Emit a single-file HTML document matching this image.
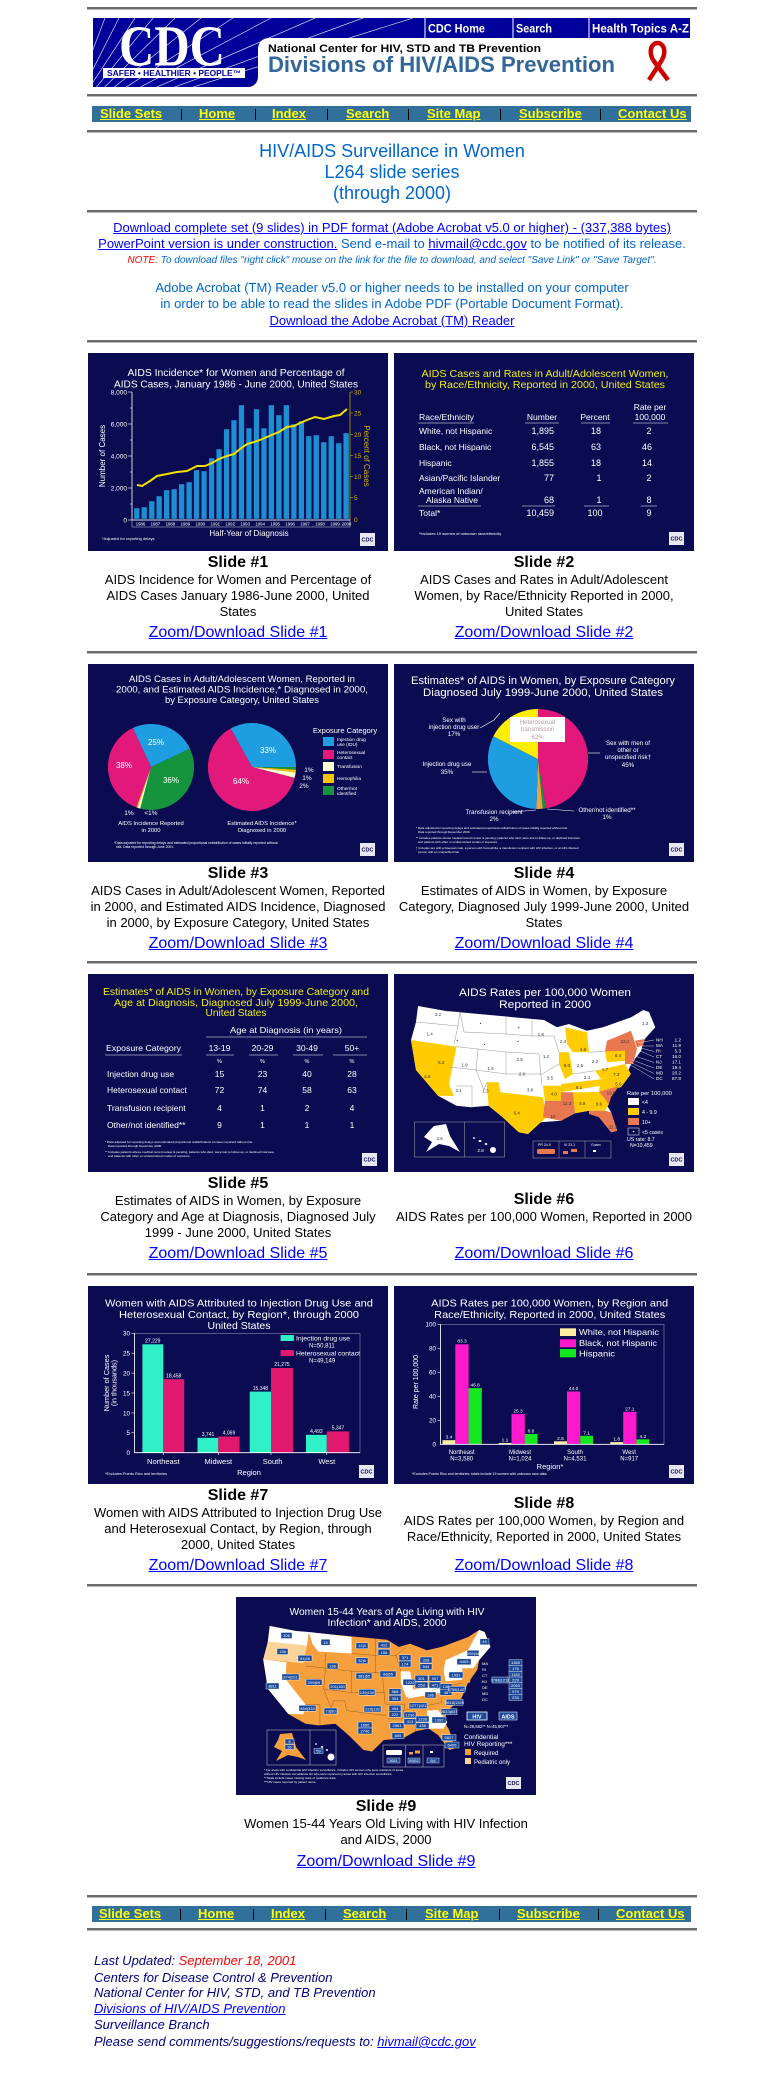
<!DOCTYPE html>
<html><head><meta charset="utf-8">
<style>
*{margin:0;padding:0}
html,body{width:772px;height:2074px;overflow:hidden;background:#fff}
body{position:relative;font-family:"Liberation Sans",Arial,sans-serif;color:#000}
.a{position:absolute;white-space:nowrap}
.c{left:87px;width:610px;text-align:center}
.hr{position:absolute;left:87px;width:610px;height:0;border-top:2px solid #6b6b6b;border-bottom:1px solid #b8b8b8}
.nav{position:absolute;left:92px;width:599px;height:16px;background:#30709a}
.nav a{position:absolute;top:0;line-height:16px;font-size:13px;font-weight:bold;color:#ffff00;text-decoration:underline;white-space:nowrap}
.nav i{position:absolute;top:3px;width:1px;height:11px;background:#000}
.sl{position:absolute;font-family:"Liberation Sans",Arial,sans-serif}
.lab{position:absolute;width:306px;text-align:center;font-weight:bold;font-size:16px;line-height:18px}
.cap{position:absolute;width:306px;text-align:center;font-size:13px;line-height:16px;white-space:nowrap}
.lnk{position:absolute;width:306px;text-align:center;font-size:16px;line-height:18px;white-space:nowrap}
a{color:#0000ff}
</style></head><body>

<div class="hr" style="top:7px"></div>

<!-- HEADER -->
<svg class="sl" style="left:93px;top:18px" width="597" height="69">
<rect width="597" height="69" fill="#00009a"/>
<g stroke="#ffffff" stroke-width="0.7" opacity="0.85">
<line x1="-30" y1="110" x2="12" y2="0"/><line x1="-30" y1="110" x2="26" y2="0"/>
<line x1="-30" y1="110" x2="42" y2="0"/><line x1="-30" y1="110" x2="60" y2="0"/>
<line x1="-30" y1="110" x2="82" y2="0"/><line x1="-30" y1="110" x2="108" y2="0"/>
<line x1="-30" y1="110" x2="140" y2="0"/><line x1="-30" y1="110" x2="178" y2="0"/>
<line x1="-30" y1="110" x2="222" y2="0"/><line x1="-30" y1="110" x2="270" y2="0"/>
<line x1="-30" y1="110" x2="320" y2="0"/>
</g>
<path d="M165,69 L165,32 Q165,20 177,20 L597,20 L597,69 Z" fill="#fff"/>
<path d="M165,59 L165,69 L155,69 A10,10 0 0 0 165,59 Z" fill="#fff"/>
<text x="26" y="47.5" font-family="Liberation Serif,serif" font-weight="bold" font-size="58" fill="#fff" textLength="106" lengthAdjust="spacingAndGlyphs">CDC</text>
<rect x="10" y="50" width="142" height="10" fill="#fff"/>
<text x="81" y="58" font-size="8" font-weight="bold" fill="#00009a" text-anchor="middle" textLength="134" lengthAdjust="spacingAndGlyphs">SAFER • HEALTHIER • PEOPLE™</text>
<g stroke="#fff" stroke-width="1"><line x1="332" y1="0" x2="332" y2="20"/><line x1="420" y1="0" x2="420" y2="20"/><line x1="496" y1="0" x2="496" y2="20"/></g>
<g fill="#fff" font-size="12" font-weight="bold">
<text x="335" y="14.5" textLength="57" lengthAdjust="spacingAndGlyphs">CDC Home</text>
<text x="423" y="14.5" textLength="36" lengthAdjust="spacingAndGlyphs">Search</text>
<text x="499" y="14.5" textLength="97" lengthAdjust="spacingAndGlyphs">Health Topics A-Z</text>
</g>
<text x="175" y="34" font-size="11" font-weight="bold" fill="#000" textLength="273" lengthAdjust="spacingAndGlyphs">National Center for HIV, STD and TB Prevention</text>
<text x="175" y="54" font-size="22" font-weight="bold" fill="#336699" textLength="347" lengthAdjust="spacingAndGlyphs">Divisions of HIV/AIDS Prevention</text>
<g fill="none" stroke="#cc0000" stroke-width="4.5">
<path d="M560,42 C555,32 559,25 564.5,25 C570,25 574,32 569,42"/>
<path d="M569,42 L556,62"/><path d="M560,42 L575,62"/>
</g>
</svg>

<div class="hr" style="top:94px"></div>

<div class="nav" style="top:106px">
<a style="left:8px">Slide Sets</a><i style="left:89px"></i>
<a style="left:107px">Home</a><i style="left:163px"></i>
<a style="left:180px">Index</a><i style="left:235px"></i>
<a style="left:254px">Search</a><i style="left:316px"></i>
<a style="left:335px">Site Map</a><i style="left:408px"></i>
<a style="left:427px">Subscribe</a><i style="left:508px"></i>
<a style="left:526px">Contact Us</a>
</div>

<div class="hr" style="top:130px"></div>

<div class="a c" style="top:141px;font-size:18px;line-height:21px;color:#0066cc">HIV/AIDS Surveillance in Women<br>L264 slide series<br>(through 2000)</div>

<div class="hr" style="top:210px"></div>

<div class="a c" style="top:220px;font-size:13px;line-height:16px"><a href="#">Download complete set (9 slides) in PDF format (Adobe Acrobat v5.0 or higher) - (337,388 bytes)</a></div>
<div class="a c" style="top:236px;font-size:13px;line-height:16px;color:#0066cc"><a href="#">PowerPoint version is under construction.</a> Send e-mail to <a href="#">hivmail@cdc.gov</a> to be notified of its release.</div>
<div class="a c" style="top:253px;font-size:10px;line-height:16px;font-style:italic;color:#0066cc"><span style="color:#ff0000">NOTE:</span> To download files "right click" mouse on the link for the file to download, and select "Save Link" or "Save Target".</div>
<div class="a c" style="top:280px;font-size:13px;line-height:16px;color:#0066cc">Adobe Acrobat (TM) Reader v5.0 or higher needs to be installed on your computer</div>
<div class="a c" style="top:296px;font-size:13px;line-height:16px;color:#0066cc">in order to be able to read the slides in Adobe PDF (Portable Document Format).</div>
<div class="a c" style="top:313px;font-size:13px;line-height:16px"><a href="#">Download the Adobe Acrobat (TM) Reader</a></div>

<div class="hr" style="top:340px"></div>

<!-- SLIDE 1 -->
<svg class="sl" style="left:88px;top:353px" width="300" height="198">
<rect width="300" height="198" fill="#0b0b52"/>
<g fill="#fff">
<text x="148" y="23" font-size="10.5" text-anchor="middle" textLength="217" lengthAdjust="spacingAndGlyphs">AIDS Incidence* for Women and Percentage of</text>
<text x="148" y="34.5" font-size="10.5" text-anchor="middle" textLength="244" lengthAdjust="spacingAndGlyphs">AIDS Cases, January 1986 - June 2000, United States</text>
</g>
<g fill="#1d8ed0" stroke="#0b0b52" stroke-width="0.4">
<rect x="45.9" y="155" width="5.7" height="11"/><rect x="53.4" y="154" width="5.7" height="12"/>
<rect x="60.9" y="148" width="5.7" height="18"/><rect x="68.3" y="143" width="5.7" height="23"/>
<rect x="75.8" y="137" width="5.7" height="29"/><rect x="83.3" y="136" width="5.7" height="30"/>
<rect x="90.8" y="131" width="5.7" height="35"/><rect x="98.3" y="129" width="5.7" height="37"/>
<rect x="105.7" y="117" width="5.7" height="49"/><rect x="113.2" y="118" width="5.7" height="48"/>
<rect x="120.7" y="105" width="5.7" height="61"/><rect x="128.2" y="96" width="5.7" height="70"/>
<rect x="135.7" y="76" width="5.7" height="90"/><rect x="143.1" y="67" width="5.7" height="99"/>
<rect x="150.6" y="52" width="5.7" height="114"/><rect x="158.1" y="75" width="5.7" height="91"/>
<rect x="165.6" y="56" width="5.7" height="110"/><rect x="173.1" y="75" width="5.7" height="91"/>
<rect x="180.5" y="52" width="5.7" height="114"/><rect x="188" y="62" width="5.7" height="104"/>
<rect x="195.5" y="52" width="5.7" height="114"/><rect x="203" y="71" width="5.7" height="95"/>
<rect x="210.5" y="68" width="5.7" height="98"/><rect x="217.9" y="83" width="5.7" height="83"/>
<rect x="225.4" y="82" width="5.7" height="84"/><rect x="232.9" y="89" width="5.7" height="77"/>
<rect x="240.4" y="83" width="5.7" height="83"/><rect x="247.9" y="90" width="5.7" height="76"/>
<rect x="255.3" y="80" width="5.7" height="86"/>
</g>
<polyline fill="none" stroke="#f2e200" stroke-width="2" points="49,132 54,133 62,128 69,123 79,121 89,119 99,118 109,113 117,113 124,110 131,106 139,103 146,101 152,96 159,91 166,89 172,87 179,84 186,81 191,79 199,74 206,73 212,70 219,67 227,64 236,66 246,63 252,62 259,56"/>
<path d="M44,39 V167 H262" fill="none" stroke="#fff" stroke-width="0.8"/>
<g stroke="#fff" stroke-width="0.6"><line x1="40" y1="39" x2="44" y2="39"/><line x1="40" y1="71" x2="44" y2="71"/><line x1="40" y1="103" x2="44" y2="103"/><line x1="40" y1="135" x2="44" y2="135"/><line x1="40" y1="167" x2="44" y2="167"/><line x1="42" y1="55" x2="44" y2="55"/><line x1="42" y1="87" x2="44" y2="87"/><line x1="42" y1="119" x2="44" y2="119"/><line x1="42" y1="151" x2="44" y2="151"/></g>
<line x1="262" y1="39" x2="262" y2="167" stroke="#c8a800" stroke-width="0.8"/>
<g stroke="#c8a800" stroke-width="0.6"><line x1="262" y1="39" x2="265" y2="39"/><line x1="262" y1="60" x2="265" y2="60"/><line x1="262" y1="81.3" x2="265" y2="81.3"/><line x1="262" y1="102.5" x2="265" y2="102.5"/><line x1="262" y1="123.7" x2="265" y2="123.7"/><line x1="262" y1="144.8" x2="265" y2="144.8"/></g>
<g fill="#fff" font-size="6.5" text-anchor="end"><text x="39" y="41.5">8,000</text><text x="39" y="73.5">6,000</text><text x="39" y="105.5">4,000</text><text x="39" y="137.5">2,000</text><text x="39" y="169.5">0</text></g>
<g fill="#d4b400" font-size="6.5"><text x="266" y="41.5">30</text><text x="266" y="62.5">25</text><text x="266" y="84">20</text><text x="266" y="105">15</text><text x="266" y="126">10</text><text x="266" y="147">5</text><text x="266" y="169">0</text></g>
<rect x="44" y="167" width="218" height="7" fill="none" stroke="#fff" stroke-width="0.4"/>
<g fill="#fff" font-size="4.3" text-anchor="middle">
<text x="52.5" y="172.5">1986</text><text x="67.4" y="172.5">1987</text><text x="82.4" y="172.5">1988</text><text x="97.4" y="172.5">1989</text><text x="112.3" y="172.5">1990</text><text x="127.3" y="172.5">1991</text><text x="142.2" y="172.5">1992</text><text x="157.2" y="172.5">1993</text><text x="172.2" y="172.5">1994</text><text x="187.1" y="172.5">1995</text><text x="202.1" y="172.5">1996</text><text x="217" y="172.5">1997</text><text x="232" y="172.5">1998</text><text x="247" y="172.5">1999</text><text x="258.5" y="172.5">2000</text>
</g>
<text x="161" y="183" fill="#fff" font-size="8" text-anchor="middle">Half-Year of Diagnosis</text>
<text x="14" y="187" fill="#fff" font-size="4">*Adjusted for reporting delays</text>
<text transform="translate(17,103) rotate(-90)" fill="#fff" font-size="8" text-anchor="middle">Number of Cases</text>
<text transform="translate(276,103) rotate(90)" fill="#d4b400" font-size="8" text-anchor="middle">Percent of Cases</text>
<rect x="272" y="180" width="15" height="13" fill="#e8e8f2"/><text x="279.5" y="188.5" font-size="5.5" font-weight="bold" fill="#0b0b52" text-anchor="middle">CDC</text>
</svg>

<!-- SLIDE 2 -->
<svg class="sl" style="left:394px;top:353px" width="300" height="198">
<rect width="300" height="198" fill="#0b0b52"/>
<text x="151" y="24" font-size="10" fill="#eeee10" text-anchor="middle" textLength="247" lengthAdjust="spacingAndGlyphs">AIDS Cases and Rates in Adult/Adolescent Women,</text>
<text x="151" y="35" font-size="10" fill="#eeee10" text-anchor="middle" textLength="240" lengthAdjust="spacingAndGlyphs">by Race/Ethnicity, Reported in 2000, United States</text>
<g fill="#fff" font-size="8.5">
<text x="25" y="67" textLength="55" lengthAdjust="spacingAndGlyphs">Race/Ethnicity</text>
<text x="148" y="67" text-anchor="middle">Number</text>
<text x="201" y="67" text-anchor="middle">Percent</text>
<text x="256" y="57" text-anchor="middle">Rate per</text>
<text x="256" y="67" text-anchor="middle">100,000</text>
<text x="25" y="81">White, not Hispanic</text>
<text x="25" y="97">Black, not Hispanic</text>
<text x="25" y="113">Hispanic</text>
<text x="25" y="128">Asian/Pacific Islander</text>
<text x="25" y="141">American Indian/</text>
<text x="32" y="150">Alaska Native</text>
<text x="25" y="163">Total*</text>
</g>
<g fill="#fff" font-size="9" text-anchor="end">
<text x="160" y="81">1,895</text><text x="160" y="97">6,545</text><text x="160" y="113">1,855</text><text x="160" y="128">77</text><text x="160" y="150">68</text><text x="160" y="163">10,459</text>
</g>
<g fill="#fff" font-size="9" text-anchor="middle">
<text x="202" y="81">18</text><text x="202" y="97">63</text><text x="202" y="113">18</text><text x="205" y="128">1</text><text x="205" y="150">1</text><text x="201" y="163">100</text>
<text x="255" y="81">2</text><text x="253" y="97">46</text><text x="253" y="113">14</text><text x="255" y="128">2</text><text x="255" y="150">8</text><text x="255" y="163">9</text>
</g>
<g stroke="#fff" stroke-width="0.5"><line x1="24" y1="70" x2="80" y2="70"/><line x1="131" y1="70" x2="165" y2="70"/><line x1="187" y1="70" x2="216" y2="70"/><line x1="239" y1="70" x2="274" y2="70"/><line x1="24" y1="153" x2="87" y2="153"/><line x1="128" y1="153" x2="161" y2="153"/><line x1="190" y1="153" x2="215" y2="153"/><line x1="247" y1="153" x2="263" y2="153"/></g>
<text x="25" y="182" fill="#fff" font-size="4">*Includes 19 women of unknown race/ethnicity</text>
<rect x="275" y="179" width="15" height="13" fill="#e8e8f2"/><text x="282.5" y="187.5" font-size="5.5" font-weight="bold" fill="#0b0b52" text-anchor="middle">CDC</text>
</svg>

<div class="lab" style="left:85px;top:554px">Slide #1</div>
<div class="cap" style="left:85px;top:572px">AIDS Incidence for Women and Percentage of<br>AIDS Cases January 1986-June 2000, United<br>States</div>
<div class="lnk" style="left:85px;top:624px"><a href="#">Zoom/Download Slide #1</a></div>
<div class="lab" style="left:391px;top:554px">Slide #2</div>
<div class="cap" style="left:391px;top:572px">AIDS Cases and Rates in Adult/Adolescent<br>Women, by Race/Ethnicity Reported in 2000,<br>United States</div>
<div class="lnk" style="left:391px;top:624px"><a href="#">Zoom/Download Slide #2</a></div>

<div class="hr" style="top:651px"></div>

<!-- SLIDE 3 -->
<svg class="sl" style="left:88px;top:664px" width="300" height="198">
<rect width="300" height="198" fill="#0b0b52"/>
<g fill="#fff" text-anchor="middle" font-size="9.5">
<text x="154" y="18" textLength="226" lengthAdjust="spacingAndGlyphs">AIDS Cases in Adult/Adolescent Women, Reported in</text>
<text x="154" y="28.5" textLength="252" lengthAdjust="spacingAndGlyphs">2000, and Estimated AIDS Incidence,* Diagnosed in 2000,</text>
<text x="154" y="39" textLength="154" lengthAdjust="spacingAndGlyphs">by Exposure Category, United States</text>
</g>
<path d="M63,103 L44.8,64 A43,43 0 0 1 102,84.8 Z" fill="#1e9de0"/>
<path d="M63,103 L102,84.8 A43,43 0 0 1 52.2,144.6 Z" fill="#14943c"/>
<path d="M63,103 L52.2,144.6 A43,43 0 0 1 49.6,143.9 Z" fill="#ffffd0"/>
<path d="M63,103 L49.6,143.9 A43,43 0 0 1 48.3,143.4 Z" fill="#ffc400"/>
<path d="M63,103 L48.3,143.4 A43,43 0 0 1 44.8,64 Z" fill="#e2187a"/>
<path d="M164,103 L142.7,64.5 A44,44 0 0 1 208,103 Z" fill="#1e9de0"/>
<path d="M164,103 L208,103 A44,44 0 0 1 207.9,105.8 Z" fill="#14943c"/>
<path d="M164,103 L207.9,105.8 A44,44 0 0 1 207.7,108.5 Z" fill="#ffc400"/>
<path d="M164,103 L207.7,108.5 A44,44 0 0 1 206.6,113.9 Z" fill="#ffffd0"/>
<path d="M164,103 L206.6,113.9 A44,44 0 1 1 142.7,64.5 Z" fill="#e2187a"/>
<g fill="#fff" font-size="8" text-anchor="middle">
<text x="68" y="81">25%</text><text x="36" y="104">38%</text><text x="83" y="119">36%</text><text x="180" y="89">33%</text><text x="153" y="120">64%</text>
</g>
<g fill="#fff" font-size="6.5" text-anchor="middle">
<text x="41" y="151">1%</text><text x="63" y="151">&lt;1%</text><text x="221" y="108">1%</text><text x="219" y="116">1%</text><text x="216" y="124">2%</text>
</g>
<g fill="#fff" font-size="5.8" text-anchor="middle">
<text x="63" y="161">AIDS Incidence Reported</text><text x="63" y="168">in 2000</text>
<text x="174" y="161">Estimated AIDS Incidence*</text><text x="174" y="168">Diagnosed in 2000</text>
</g>
<text x="257" y="69" fill="#fff" font-size="7.5" text-anchor="middle">Exposure Category</text>
<rect x="235" y="73" width="11" height="9" fill="#1e9de0"/>
<rect x="235" y="86" width="11" height="9" fill="#e2187a"/>
<rect x="235" y="98" width="11" height="9" fill="#ffffd0"/>
<rect x="235" y="110" width="11" height="9" fill="#ffc400"/>
<rect x="235" y="122" width="11" height="9" fill="#14943c"/>
<g fill="#fff" font-size="4.8">
<text x="249" y="77">Injection drug</text><text x="249" y="82">use (IDU)</text>
<text x="249" y="90">Heterosexual</text><text x="249" y="95">contact</text>
<text x="249" y="104">Transfusion</text><text x="249" y="116">Hemophilia</text>
<text x="249" y="126">Other/not</text><text x="249" y="131">identified</text>
</g>
<g fill="#fff" font-size="3.4"><text x="26" y="180">*Data adjusted for reporting delays and estimated proportional redistribution of cases initially reported without</text><text x="28" y="184">risk. Data reported through June 2001.</text></g>
<rect x="272" y="179" width="15" height="13" fill="#e8e8f2"/><text x="279.5" y="187.5" font-size="5.5" font-weight="bold" fill="#0b0b52" text-anchor="middle">CDC</text>
</svg>

<!-- SLIDE 4 -->
<svg class="sl" style="left:394px;top:664px" width="300" height="198">
<rect width="300" height="198" fill="#0b0b52"/>
<text x="149" y="20" fill="#fff" font-size="11" text-anchor="middle" textLength="264" lengthAdjust="spacingAndGlyphs">Estimates* of AIDS in Women, by Exposure Category</text>
<text x="149" y="32" fill="#fff" font-size="11" text-anchor="middle" textLength="240" lengthAdjust="spacingAndGlyphs">Diagnosed July 1999-June 2000, United States</text>
<path d="M144,95 L144,45 A50,50 0 0 1 151.8,144.4 Z" fill="#e2187a"/>
<path d="M144,95 L151.8,144.4 A50,50 0 0 1 148.7,144.8 Z" fill="#14943c"/>
<path d="M144,95 L148.7,144.8 A50,50 0 0 1 142.4,145 Z" fill="#f0a040"/>
<path d="M144,95 L142.4,145 A50,50 0 0 1 99.4,72.3 Z" fill="#1e9de0"/>
<path d="M144,95 L99.4,72.3 A50,50 0 0 1 144,45 Z" fill="#ffee00"/>
<rect x="116" y="53" width="55" height="25" fill="#fff"/>
<g fill="#b49aa6" font-size="6" text-anchor="middle"><text x="143.5" y="60">Heterosexual</text><text x="143.5" y="67">transmission</text><text x="143.5" y="75">62%</text></g>
<g stroke="#fff" stroke-width="0.6" fill="none">
<polyline points="86,64 100,56 106,49"/><line x1="78" y1="108" x2="93" y2="108"/><line x1="194" y1="89" x2="206" y2="89"/><line x1="118" y1="148" x2="142" y2="146"/><line x1="153" y1="145" x2="180" y2="147"/>
</g>
<g fill="#fff" font-size="6.2" text-anchor="middle">
<text x="60" y="58">Sex with</text><text x="60" y="65">injection drug user</text><text x="60" y="72">17%</text>
<text x="53" y="102">Injection drug use</text><text x="53" y="110">35%</text>
<text x="234" y="81">Sex with men of</text><text x="234" y="88">other or</text><text x="234" y="95">unspecified risk†</text><text x="234" y="103">45%</text>
<text x="100" y="150">Transfusion recipient</text><text x="100" y="157">2%</text>
<text x="213" y="148">Other/not identified**</text><text x="213" y="155">1%</text>
</g>
<g fill="#fff" font-size="3"><text x="22" y="165">* Data adjusted for reporting delays and estimated proportional redistribution of cases initially reported without risk.</text><text x="24" y="169">Data reported through December 2000.</text><text x="22" y="175">** Includes patients whose medical record review is pending; patients who died, were lost to follow-up, or declined interview;</text><text x="24" y="179">and patients with other or undetermined modes of exposure.</text><text x="22" y="185">† Includes sex with a bisexual male, a person with hemophilia, a transfusion recipient with HIV infection, or an HIV-infected</text><text x="24" y="189">person with an unspecified risk.</text></g>
<rect x="275" y="179" width="15" height="13" fill="#e8e8f2"/><text x="282.5" y="187.5" font-size="5.5" font-weight="bold" fill="#0b0b52" text-anchor="middle">CDC</text>
</svg>

<div class="lab" style="left:85px;top:865px">Slide #3</div>
<div class="cap" style="left:85px;top:883px">AIDS Cases in Adult/Adolescent Women, Reported<br>in 2000, and Estimated AIDS Incidence, Diagnosed<br>in 2000, by Exposure Category, United States</div>
<div class="lnk" style="left:85px;top:935px"><a href="#">Zoom/Download Slide #3</a></div>
<div class="lab" style="left:391px;top:865px">Slide #4</div>
<div class="cap" style="left:391px;top:883px">Estimates of AIDS in Women, by Exposure<br>Category, Diagnosed July 1999-June 2000, United<br>States</div>
<div class="lnk" style="left:391px;top:935px"><a href="#">Zoom/Download Slide #4</a></div>

<div class="hr" style="top:961px"></div>

<!-- SLIDE 5 -->
<svg class="sl" style="left:88px;top:974px" width="300" height="198">
<rect width="300" height="198" fill="#0b0b52"/>
<g fill="#eeee10" font-size="10" text-anchor="middle">
<text x="148" y="21" textLength="266" lengthAdjust="spacingAndGlyphs">Estimates* of AIDS in Women, by Exposure Category and</text>
<text x="148" y="32" textLength="244" lengthAdjust="spacingAndGlyphs">Age at Diagnosis, Diagnosed July 1999-June 2000,</text>
<text x="148" y="42" textLength="61" lengthAdjust="spacingAndGlyphs">United States</text>
</g>
<text x="198" y="59" fill="#fff" font-size="8.5" text-anchor="middle" textLength="112" lengthAdjust="spacingAndGlyphs">Age at Diagnosis (in years)</text>
<g stroke="#fff" stroke-width="0.5"><line x1="118" y1="63" x2="279" y2="63"/><line x1="17" y1="81" x2="94" y2="81"/><line x1="118" y1="81" x2="146" y2="81"/><line x1="161" y1="81" x2="190" y2="81"/><line x1="205" y1="81" x2="235" y2="81"/><line x1="245" y1="81" x2="279" y2="81"/></g>
<g fill="#fff" font-size="8.5">
<text x="18" y="77" textLength="75" lengthAdjust="spacingAndGlyphs">Exposure Category</text>
<text x="19" y="103">Injection drug use</text>
<text x="19" y="119">Heterosexual contact</text>
<text x="19" y="137">Transfusion recipient</text>
<text x="19" y="154">Other/not identified**</text>
</g>
<g fill="#fff" font-size="8.5" text-anchor="middle">
<text x="131.5" y="77">13-19</text><text x="174.5" y="77">20-29</text><text x="219" y="77">30-49</text><text x="264" y="77">50+</text>
<text x="131.5" y="103">15</text><text x="174.5" y="103">23</text><text x="219" y="103">40</text><text x="264" y="103">28</text>
<text x="131.5" y="119">72</text><text x="174.5" y="119">74</text><text x="219" y="119">58</text><text x="264" y="119">63</text>
<text x="131.5" y="137">4</text><text x="174.5" y="137">1</text><text x="219" y="137">2</text><text x="264" y="137">4</text>
<text x="131.5" y="154">9</text><text x="174.5" y="154">1</text><text x="219" y="154">1</text><text x="264" y="154">1</text>
</g>
<g fill="#fff" font-size="5.5" text-anchor="middle"><text x="131.5" y="89">%</text><text x="174.5" y="89">%</text><text x="219" y="89">%</text><text x="264" y="89">%</text></g>
<g fill="#fff" font-size="3.1"><text x="17" y="169">* Data adjusted for reporting delays and estimated proportional redistributions of cases reported without risk.</text><text x="20" y="173">Data reported through December 2000.</text><text x="17" y="179">** Includes patients whose medical record review is pending, patients who died, were lost to follow-up, or declined interview,</text><text x="20" y="183">and patients with other or undetermined modes of exposure.</text></g>
<rect x="274" y="179" width="15" height="13" fill="#e8e8f2"/><text x="281.5" y="187.5" font-size="5.5" font-weight="bold" fill="#0b0b52" text-anchor="middle">CDC</text>
</svg>

<!-- SLIDE 6 -->
<svg class="sl" style="left:394px;top:974px" width="300" height="198">
<rect width="300" height="198" fill="#0b0b52"/>
<text x="151" y="22" fill="#fff" font-size="11" text-anchor="middle" textLength="172" lengthAdjust="spacingAndGlyphs">AIDS Rates per 100,000 Women</text>
<text x="151" y="34" fill="#fff" font-size="11" text-anchor="middle" textLength="92" lengthAdjust="spacingAndGlyphs">Reported in 2000</text>
<polygon fill="#fff" points="24,32 52,37 138.8,45 150,46 162.9,53.3 175,50 193,56.7 209,53.3 237.2,43.3 249.2,36 255,38 261.3,53.3 249.2,66.7 247.2,76.7 237.2,90 230,106 217.1,116.7 211.1,128.3 217.1,138.3 223.1,156.7 217.1,158.3 205.1,143.3 195,136.7 181,139.3 166.9,146.7 146.8,148.3 134,160 124.8,158.3 108.7,143.3 94.6,131.7 76.6,133.3 62.5,131.7 44,121.7 22,96 17,66 22,48"/>
<g fill="#ffcc00">
<polygon points="17,66 62.5,72.7 55,110 60,122 44,121.7 22,96"/>
<polygon points="92.6,108.3 104.7,108.3 106.7,118.3 148.8,123.3 152.9,143.3 146.8,148.3 134,160 124.8,158.3 108.7,143.3 94.6,131.7"/>
<polygon points="148.8,111.7 169,111.7 167,126.7 151,126.7"/>
<polygon points="179,118.3 193,118.3 195,136.7 181,139.3"/>
<polygon points="193,118.3 205,117.7 215,130 211,136.7 195,136.7"/>
<polygon points="167,110 209,105 207,111.7 167,118.3"/>
<polygon points="207,105 237,100 227,113.3 205,117.7"/>
<polygon points="201,96.7 231,90 237,100 207,105"/>
<polygon points="165,78.3 175,78.3 179,100 171,105 165,90"/>
<polygon points="171,53.3 193,58.3 195,78.3 179,78.3 173,70"/>
<polygon points="211,77.3 231,75 233,86.7 213,88.3"/>
</g>
<g fill="#e87850">
<polygon points="151,126.7 167,126.7 167,146.7 149,143.3"/>
<polygon points="167,118.3 179,118.3 181,139.3 167,146.7"/>
<polygon points="205,117.7 225,112 217,123.3 215,130"/>
<polygon points="195,136.7 211,136.7 217.1,138.3 223.1,156.7 217.1,158.3 205.1,143.3 195,140"/>
<polygon points="213,66.7 237,56.7 243,75 231,76.7 211,77.3"/>
<polygon points="231,75 243,75 239,90 231,90"/>
<polygon points="241,66.7 251,65 249,71.7 243,73.3"/>
</g>
<g stroke="#777" stroke-width="0.4" fill="none">
<polyline points="22,48 64,52 60,70"/><polyline points="52,37 66,38 64,52"/><polyline points="66,38 70,58 112,60 112,43"/><polyline points="62.5,72.7 84,75 82,96 56,93"/><polyline points="84,75 112,78 112,100 82,96"/><polyline points="112,60 138,62 138,45"/><polyline points="112,78 145,80 148,111.7"/><polyline points="62.5,112 78,112 78,133"/><polyline points="82,96 90,116 92.6,108.3"/><polyline points="112,100 148,100"/><polyline points="138,62 160,62 165,78.3"/><polyline points="148,100 165,90"/><polyline points="195,78.3 211,77.3"/><polyline points="179,100 201,96.7"/>
</g>
<g fill="#333" font-size="4.5" text-anchor="middle">
<text x="44" y="42">3.2</text><text x="35.6" y="61.5">1.4</text><text x="47.2" y="90">6.2</text><text x="33.2" y="104">4.6</text><text x="70.5" y="92.5">1.9</text><text x="96.6" y="96">1.6</text><text x="64.5" y="118">3.1</text><text x="91.4" y="118.5">1.3</text><text x="125.6" y="87">2.9</text><text x="128" y="101.5">2.0</text><text x="152" y="84">1.2</text><text x="146.8" y="62">1.8</text><text x="169" y="69">2.4</text><text x="189" y="77">4.8</text><text x="173" y="93">8.0</text><text x="186" y="93">2.6</text><text x="201" y="89">2.2</text><text x="211" y="97">1.7</text><text x="224" y="83">8.4</text><text x="222.3" y="102">7.3</text><text x="224.4" y="111.5">5.6</text><text x="193" y="105">2.4</text><text x="156" y="105.5">3.5</text><text x="136" y="117.5">3.8</text><text x="159.7" y="121.5">4.0</text><text x="185" y="115">8.1</text><text x="173" y="131">11.3</text><text x="188.2" y="131">5.8</text><text x="205" y="131.5">9.6</text><text x="217" y="120.5">13.8</text><text x="159" y="144">10</text><text x="219" y="154.5">21.3</text><text x="122.7" y="140.5">6.4</text><text x="231" y="69">23.4</text><text x="251" y="51">1.3</text>
<text x="86.6" y="51">•</text><text x="63.3" y="68">•</text><text x="90.6" y="72">•</text><text x="124.8" y="55">•</text><text x="124" y="69">•</text>
</g>
<g stroke="#fff" stroke-width="0.4"><line x1="244" y1="69" x2="260" y2="66"/><line x1="245" y1="72" x2="260" y2="72"/><line x1="247" y1="74" x2="260" y2="77.5"/><line x1="244" y1="76" x2="260" y2="83"/><line x1="241" y1="82" x2="260" y2="88.5"/><line x1="238" y1="86" x2="260" y2="94"/><line x1="236" y1="88" x2="260" y2="99.5"/><line x1="235" y1="90" x2="260" y2="105"/></g>
<g fill="#fff" font-size="4.6"><text x="262" y="67.5">NH</text><text x="262" y="73">MA</text><text x="262" y="78.5">RI</text><text x="262" y="84">CT</text><text x="262" y="89.5">NJ</text><text x="262" y="95">DE</text><text x="262" y="100.5">MD</text><text x="262" y="106">DC</text></g>
<g fill="#fff" font-size="4.6" text-anchor="end"><text x="287" y="67.5">1.2</text><text x="287" y="73">11.9</text><text x="287" y="78.5">5.3</text><text x="287" y="84">16.0</text><text x="287" y="89.5">17.1</text><text x="287" y="95">19.4</text><text x="287" y="100.5">20.2</text><text x="287" y="106">87.8</text></g>
<text x="233" y="121" fill="#fff" font-size="5.8">Rate per 100,000</text>
<rect x="234" y="124" width="11" height="7" fill="#fff"/><rect x="234" y="134" width="11" height="7" fill="#ffcc00"/><rect x="234" y="144" width="11" height="7" fill="#e87850"/><rect x="234" y="154" width="11" height="7" fill="#0b0b52" stroke="#fff" stroke-width="0.5"/><circle cx="239.5" cy="157.5" r="0.8" fill="#fff"/>
<g fill="#fff" font-size="5.2"><text x="248" y="130">&lt;4</text><text x="248" y="140">4 - 9.9</text><text x="248" y="150">10+</text><text x="248" y="160">&lt;5 cases</text><text x="233" y="167">US rate: 8.7</text><text x="236" y="173">N=10,459</text></g>
<rect x="20.3" y="148" width="90.4" height="35" fill="none" stroke="#aaa" stroke-width="0.5"/><line x1="70.5" y1="148" x2="70.5" y2="183" stroke="#aaa" stroke-width="0.5"/>
<polygon fill="#fff" points="40,152 52,150 56,162 66,178 55,172 45,170 32,178 38,168 30,163 35,157"/>
<g fill="#fff"><ellipse cx="80" cy="164" rx="1.2" ry="0.8"/><ellipse cx="86" cy="167" rx="1.5" ry="1"/><ellipse cx="92" cy="170" rx="1.3" ry="1"/><ellipse cx="99" cy="176" rx="3" ry="3"/></g>
<g fill="#333" font-size="4.5" text-anchor="middle"><text x="45.6" y="166">2.6</text></g><text x="86.6" y="178" fill="#fff" font-size="4.5" text-anchor="middle">2.8</text>
<rect x="139" y="167" width="78" height="17" fill="none" stroke="#aaa" stroke-width="0.5"/><line x1="165" y1="167" x2="165" y2="184" stroke="#aaa" stroke-width="0.5"/><line x1="191" y1="167" x2="191" y2="184" stroke="#aaa" stroke-width="0.5"/>
<g fill="#fff" font-size="3.5"><text x="144" y="172">PR 24.9</text><text x="170" y="172">VI 23.1</text><text x="197" y="172">Guam</text></g>
<rect x="143" y="175" width="18" height="5" rx="1.5" fill="#e87850"/><rect x="169" y="177" width="5" height="3" fill="#e87850"/><rect x="177" y="175" width="6" height="3" fill="#e87850"/><rect x="199" y="176" width="3" height="2" fill="#fff"/>
<rect x="275" y="179" width="15" height="13" fill="#e8e8f2"/><text x="282.5" y="187.5" font-size="5.5" font-weight="bold" fill="#0b0b52" text-anchor="middle">CDC</text>
</svg>

<div class="lab" style="left:85px;top:1175px">Slide #5</div>
<div class="cap" style="left:85px;top:1193px">Estimates of AIDS in Women, by Exposure<br>Category and Age at Diagnosis, Diagnosed July<br>1999 - June 2000, United States</div>
<div class="lnk" style="left:85px;top:1245px"><a href="#">Zoom/Download Slide #5</a></div>
<div class="lab" style="left:391px;top:1191px">Slide #6</div>
<div class="cap" style="left:391px;top:1209px">AIDS Rates per 100,000 Women, Reported in 2000</div>
<div class="lnk" style="left:391px;top:1245px"><a href="#">Zoom/Download Slide #6</a></div>

<div class="hr" style="top:1273px"></div>

<!-- SLIDE 7 -->
<svg class="sl" style="left:88px;top:1286px" width="300" height="198">
<rect width="300" height="198" fill="#0b0b52"/>
<g fill="#fff" font-size="10.5" text-anchor="middle">
<text x="151" y="20.5" textLength="268" lengthAdjust="spacingAndGlyphs">Women with AIDS Attributed to Injection Drug Use and</text>
<text x="151" y="32" textLength="240" lengthAdjust="spacingAndGlyphs">Heterosexual Contact, by Region*, through 2000</text>
<text x="151" y="43" textLength="63" lengthAdjust="spacingAndGlyphs">United States</text>
</g>
<rect x="46.4" y="47.3" width="225.6" height="119.4" fill="none" stroke="#8a8ab0" stroke-width="0.6"/>
<g fill="#30f0c8">
<rect x="54.4" y="58.3" width="20.9" height="108.4"/><rect x="109.5" y="151.8" width="20.8" height="14.9"/><rect x="161.7" y="105.6" width="21.3" height="61.1"/><rect x="218" y="148.8" width="20.8" height="17.9"/>
</g>
<g fill="#e0186e">
<rect x="75.3" y="93.2" width="20.9" height="73.5"/><rect x="130.3" y="150.5" width="21.3" height="16.2"/><rect x="183" y="82" width="22" height="84.7"/><rect x="238.8" y="145.4" width="22.2" height="21.3"/>
</g>
<path d="M46.4,47.3 V166.7 H272" fill="none" stroke="#fff" stroke-width="0.8"/>
<g stroke="#fff" stroke-width="0.6"><line x1="43.5" y1="47.3" x2="46.4" y2="47.3"/><line x1="43.5" y1="67.2" x2="46.4" y2="67.2"/><line x1="43.5" y1="87.1" x2="46.4" y2="87.1"/><line x1="43.5" y1="107" x2="46.4" y2="107"/><line x1="43.5" y1="126.9" x2="46.4" y2="126.9"/><line x1="43.5" y1="146.8" x2="46.4" y2="146.8"/><line x1="75.3" y1="166.7" x2="75.3" y2="169"/><line x1="130.3" y1="166.7" x2="130.3" y2="169"/><line x1="183" y1="166.7" x2="183" y2="169"/><line x1="238.8" y1="166.7" x2="238.8" y2="169"/></g>
<g fill="#fff" font-size="6.3" text-anchor="end"><text x="42" y="49.5">30</text><text x="42" y="69.5">25</text><text x="42" y="89.5">20</text><text x="42" y="109.5">15</text><text x="42" y="129.5">10</text><text x="42" y="149">5</text><text x="42" y="169">0</text></g>
<g fill="#fff" font-size="5" text-anchor="middle"><text x="64.8" y="56.5">27,229</text><text x="85.7" y="91.5">18,458</text><text x="120" y="150">3,741</text><text x="141" y="148.7">4,069</text><text x="172.4" y="103.8">15,348</text><text x="194" y="80.2">21,275</text><text x="228.4" y="147">4,493</text><text x="250" y="143.6">5,347</text></g>
<rect x="192.6" y="49" width="13.3" height="6" fill="#30f0c8"/><rect x="192.6" y="64" width="13.3" height="6" fill="#e0186e"/>
<g fill="#fff" font-size="6"><text x="208" y="54.5" textLength="54" lengthAdjust="spacingAndGlyphs">Injection drug use</text><text x="221" y="61.5">N=50,811</text><text x="208" y="69.5" textLength="64" lengthAdjust="spacingAndGlyphs">Heterosexual contact</text><text x="221" y="76.5">N=49,149</text></g>
<g fill="#fff" font-size="7.5" text-anchor="middle"><text x="75.3" y="178">Northeast</text><text x="130.3" y="178">Midwest</text><text x="184.6" y="178">South</text><text x="238.8" y="178">West</text><text x="161" y="189">Region</text></g>
<text transform="translate(21,97) rotate(-90)" fill="#fff" font-size="7.3" text-anchor="middle">Number of Cases</text>
<text transform="translate(28.5,97) rotate(-90)" fill="#fff" font-size="7.3" text-anchor="middle">(in thousands)</text>
<text x="17" y="189" fill="#fff" font-size="3.8">*Excludes Puerto Rico and territories</text>
<rect x="271" y="179" width="15" height="13" fill="#e8e8f2"/><text x="278.5" y="187.5" font-size="5.5" font-weight="bold" fill="#0b0b52" text-anchor="middle">CDC</text>
</svg>

<!-- SLIDE 8 -->
<svg class="sl" style="left:394px;top:1286px" width="300" height="198">
<rect width="300" height="198" fill="#0b0b52"/>
<text x="155.7" y="20.5" fill="#fff" font-size="10.5" text-anchor="middle" textLength="237" lengthAdjust="spacingAndGlyphs">AIDS Rates per 100,000 Women, by Region and</text>
<text x="155.7" y="32" fill="#fff" font-size="10.5" text-anchor="middle" textLength="231" lengthAdjust="spacingAndGlyphs">Race/Ethnicity, Reported in 2000, United States</text>
<rect x="46.4" y="38.3" width="223.6" height="120" fill="none" stroke="#8a8ab0" stroke-width="0.6"/>
<g fill="#fff0a0"><rect x="48.5" y="154.2" width="12.8" height="4.1"/><rect x="104.7" y="157" width="12.8" height="1.3"/><rect x="160" y="155.3" width="13" height="3"/><rect x="216.3" y="156.1" width="12.9" height="2.2"/></g>
<g fill="#ff18cc"><rect x="61.3" y="58.3" width="13.3" height="100"/><rect x="117.5" y="127.9" width="13.3" height="30.4"/><rect x="173" y="105.5" width="13.2" height="52.8"/><rect x="229.2" y="125.8" width="13.2" height="32.5"/></g>
<g fill="#14e81e"><rect x="74.6" y="102.1" width="13.2" height="56.2"/><rect x="130.8" y="148" width="12.8" height="10.3"/><rect x="186.2" y="149.8" width="12.8" height="8.5"/><rect x="242.4" y="153.3" width="12.9" height="5"/></g>
<path d="M46.4,38.3 V158.3 H270" fill="none" stroke="#fff" stroke-width="0.8"/>
<g stroke="#fff" stroke-width="0.6"><line x1="43.5" y1="38.3" x2="46.4" y2="38.3"/><line x1="43.5" y1="62.3" x2="46.4" y2="62.3"/><line x1="43.5" y1="86.3" x2="46.4" y2="86.3"/><line x1="43.5" y1="110.3" x2="46.4" y2="110.3"/><line x1="43.5" y1="134.3" x2="46.4" y2="134.3"/></g>
<g fill="#fff" font-size="6.3" text-anchor="end"><text x="42" y="40.5">100</text><text x="42" y="64.5">80</text><text x="42" y="88.5">60</text><text x="42" y="112.5">40</text><text x="42" y="136.5">20</text><text x="42" y="160.5">0</text></g>
<text transform="translate(24,96) rotate(-90)" fill="#fff" font-size="7" text-anchor="middle">Rate per 100,000</text>
<g fill="#fff" font-size="4.8" text-anchor="middle"><text x="55" y="152.6">3.4</text><text x="68" y="56.6">83.3</text><text x="81.2" y="100.5">46.8</text><text x="111" y="155.5">1.1</text><text x="124" y="126.3">25.3</text><text x="137" y="146.5">8.6</text><text x="166.5" y="153.8">2.5</text><text x="179.6" y="104">44.0</text><text x="192.6" y="148.3">7.1</text><text x="222.7" y="154.5">1.8</text><text x="235.8" y="124.3">27.1</text><text x="248.8" y="151.8">4.2</text></g>
<rect x="166" y="42.3" width="16" height="7.7" fill="#fff0a0"/><rect x="166" y="53.3" width="16" height="8" fill="#ff18cc"/><rect x="166" y="63" width="16" height="8.3" fill="#14e81e"/>
<g fill="#fff" font-size="8.5"><text x="185" y="49" textLength="80" lengthAdjust="spacingAndGlyphs">White, not Hispanic</text><text x="185" y="60" textLength="78" lengthAdjust="spacingAndGlyphs">Black, not Hispanic</text><text x="185" y="70.5" textLength="36" lengthAdjust="spacingAndGlyphs">Hispanic</text></g>
<g fill="#fff" font-size="6" text-anchor="middle"><text x="67.7" y="168">Northeast</text><text x="67.7" y="174.5">N=3,580</text><text x="126" y="168">Midwest</text><text x="126" y="174.5">N=1,024</text><text x="181" y="168">South</text><text x="181" y="174.5">N=4,531</text><text x="235.2" y="168">West</text><text x="235.2" y="174.5">N=917</text><text x="156" y="183" font-size="7.5">Region*</text></g>
<text x="18" y="189" fill="#fff" font-size="3.5">*Excludes Puerto Rico and territories; totals include 19 women with unknown race data.</text>
<rect x="275" y="179" width="15" height="13" fill="#e8e8f2"/><text x="282.5" y="187.5" font-size="5.5" font-weight="bold" fill="#0b0b52" text-anchor="middle">CDC</text>
</svg>

<div class="lab" style="left:85px;top:1487px">Slide #7</div>
<div class="cap" style="left:85px;top:1505px">Women with AIDS Attributed to Injection Drug Use<br>and Heterosexual Contact, by Region, through<br>2000, United States</div>
<div class="lnk" style="left:85px;top:1557px"><a href="#">Zoom/Download Slide #7</a></div>
<div class="lab" style="left:391px;top:1495px">Slide #8</div>
<div class="cap" style="left:391px;top:1513px">AIDS Rates per 100,000 Women, by Region and<br>Race/Ethnicity, Reported in 2000, United States</div>
<div class="lnk" style="left:391px;top:1557px"><a href="#">Zoom/Download Slide #8</a></div>

<div class="hr" style="top:1584px"></div>

<!-- SLIDE 9 -->
<svg class="sl" style="left:236px;top:1597px" width="300" height="198">
<rect width="300" height="198" fill="#0b0b52"/>
<text x="151" y="18" fill="#fff" font-size="10" text-anchor="middle" textLength="195" lengthAdjust="spacingAndGlyphs">Women 15-44 Years of Age Living with HIV</text>
<text x="151" y="29" fill="#fff" font-size="10" text-anchor="middle" textLength="119" lengthAdjust="spacingAndGlyphs">Infection* and AIDS, 2000</text>
<g transform="translate(11.4,-2.3) scale(0.93,0.98)">
<polygon fill="#f5a03c" points="24,32 52,37 138.8,45 150,46 162.9,53.3 175,50 193,56.7 209,53.3 237.2,43.3 249.2,36 255,38 261.3,53.3 249.2,66.7 247.2,76.7 237.2,90 230,106 217.1,116.7 211.1,128.3 217.1,138.3 223.1,156.7 217.1,158.3 205.1,143.3 195,136.7 181,139.3 166.9,146.7 146.8,148.3 134,160 124.8,158.3 108.7,143.3 94.6,131.7 76.6,133.3 62.5,131.7 44,121.7 22,96 17,66 22,48"/>
<g fill="#fff">
<polygon points="24,32 52,37 66,38 64,52 22,48"/>
<polygon points="17,66 42,69 41,86 62.5,112 60,122 44,121.7 22,96"/>
<polygon points="66,38 112,43 112,60 76,58 70,50"/>
<polygon points="165,78.3 175,78.3 179,100 171,105 165,90"/>
<polygon points="178,97 205,92 208,100 172,106"/>
<polygon points="193,118.3 205,117.7 215,130 211,136.7 195,136.7"/>
<polygon points="211,77.3 213,66.7 237,56.7 249.2,36 255,38 261.3,53.3 249.2,66.7 243,75 233,86.7 213,88.3"/>
</g>
<polygon fill="#fcd49a" points="22,48 64,52 60,70 17,66"/>
<polygon fill="#f5a03c" points="231,75 243,75 239,90 231,90"/>
<g stroke="#7a5020" stroke-width="0.4" fill="none">
<polyline points="84,60 84,75 112,78 112,100 82,96 84,75"/><polyline points="62.5,72.7 84,75"/><polyline points="112,60 138,62 138,45"/><polyline points="112,78 145,80 148,111.7"/><polyline points="62.5,112 78,112 78,133"/><polyline points="82,96 90,116 92.6,108.3 104.7,108.3 106.7,118.3 148.8,123.3"/><polyline points="112,100 148,100"/><polyline points="138,62 160,62 165,78.3"/><polyline points="148.8,111.7 169,111.7 167,126.7 151,126.7"/><polyline points="167,118.3 209,110 209,105"/><polyline points="179,118.3 181,139.3"/><polyline points="201,96.7 231,90"/><polyline points="138,80 138,62"/><polyline points="160,62 171,53.3"/>
</g>
</g>
<g font-size="4" text-anchor="middle">
<g fill="#1c4a9a" stroke="#fff" stroke-width="0.4">
<rect x="45" y="35.5" width="11" height="6"/><rect x="41" y="51.5" width="11" height="6"/><rect x="85" y="42.3" width="9" height="6"/><rect x="120" y="45.7" width="12" height="6"/><rect x="142" y="45" width="12" height="6"/><rect x="142" y="52.3" width="12" height="6"/><rect x="62" y="58.3" width="14" height="6"/><rect x="91" y="66" width="11" height="6"/><rect x="120" y="60.7" width="12" height="6"/><rect x="46" y="77" width="17" height="6"/><rect x="30" y="86" width="13" height="6"/><rect x="70" y="82.3" width="16" height="6"/><rect x="93" y="86.7" width="17" height="6"/><rect x="120" y="76" width="16" height="6"/><rect x="144" y="74" width="16" height="6"/><rect x="163" y="57.7" width="12" height="6"/><rect x="163" y="64" width="12" height="6"/><rect x="184" y="60" width="12" height="6"/><rect x="184" y="66.7" width="12" height="6"/><rect x="167" y="82.3" width="14" height="6"/><rect x="179" y="78.3" width="13" height="6"/><rect x="179" y="85" width="13" height="6"/><rect x="193" y="78.3" width="12" height="6"/><rect x="193" y="85" width="12" height="6"/><rect x="153" y="91.7" width="12" height="6"/><rect x="153" y="98.3" width="12" height="6"/><rect x="123" y="92.3" width="16" height="6"/><rect x="63" y="108.3" width="17" height="6"/><rect x="88" y="111" width="13" height="6"/><rect x="128" y="109" width="17" height="6"/><rect x="153" y="108.3" width="12" height="6"/><rect x="153" y="114.3" width="12" height="6"/><rect x="122" y="125" width="14" height="6"/><rect x="122" y="131" width="14" height="6"/><rect x="154" y="125.7" width="14" height="6"/><rect x="173" y="105.7" width="18" height="6"/><rect x="168" y="115" width="12" height="6"/><rect x="168" y="121.7" width="12" height="6"/><rect x="180" y="119" width="13" height="6"/><rect x="180" y="125.7" width="13" height="6"/><rect x="196" y="120" width="14" height="6"/><rect x="189" y="95" width="11" height="6"/><rect x="204" y="86.7" width="12" height="6"/><rect x="204" y="92.3" width="12" height="6"/><rect x="213" y="89.3" width="16" height="6"/><rect x="210" y="102.3" width="17" height="6"/><rect x="205" y="111.7" width="16" height="6"/><rect x="213" y="75" width="14" height="6"/><rect x="221" y="61.7" width="14" height="6"/><rect x="231" y="53.3" width="12" height="6"/><rect x="244" y="41.7" width="9" height="6"/><rect x="206" y="137.7" width="14" height="6"/><rect x="209" y="145" width="14" height="6"/><rect x="156" y="135.7" width="12" height="6"/>
<rect x="273" y="62.7" width="13" height="6"/><rect x="273" y="68.3" width="13" height="6"/><rect x="273" y="74.3" width="13" height="6"/><rect x="273" y="80" width="13" height="6"/><rect x="273" y="85.7" width="13" height="6"/><rect x="273" y="91.7" width="13" height="6"/><rect x="273" y="97.3" width="13" height="6"/><rect x="256" y="80" width="16" height="6"/>
</g>
<g fill="#fff">
<text x="50.5" y="40">306</text><text x="46.5" y="56">136</text><text x="89.5" y="46.8">15</text><text x="126" y="50.2">12|3</text><text x="148" y="49.5">412</text><text x="148" y="56.8">168</text><text x="69" y="62.8">51|26</text><text x="96.5" y="70.5">136</text><text x="126" y="65.2">32|6</text><text x="54.5" y="81.5">374|201</text><text x="36.5" y="90.5">3811</text><text x="78" y="86.8">209|69</text><text x="101.5" y="91.2">201|160</text><text x="128" y="80.5">381|55</text><text x="152" y="78.5">68|55</text><text x="169" y="62.2">371</text><text x="169" y="68.5">174</text><text x="190" y="64.5">328</text><text x="190" y="71.2">544</text><text x="174" y="86.8">1222</text><text x="185.5" y="82.8">301</text><text x="185.5" y="89.5">253</text><text x="199" y="82.8">997</text><text x="199" y="89.5">471</text><text x="159" y="96.2">568</text><text x="159" y="102.8">304</text><text x="131" y="96.8">139|100</text><text x="71.5" y="112.8">464|333</text><text x="94.5" y="115.5">73|50</text><text x="136.5" y="113.5">225|139</text><text x="159" y="112.8">454</text><text x="159" y="118.8">222</text><text x="129" y="129.5">1656</text><text x="129" y="135.5">2746</text><text x="161" y="130.2">2961</text><text x="182" y="110.2">1277|421</text><text x="174" y="119.5">1236</text><text x="174" y="126.2">413</text><text x="186.5" y="123.5">1236</text><text x="186.5" y="130.2">438</text><text x="203" y="124.5">1392</text><text x="194.5" y="99.5">186</text><text x="210" y="91.2">138</text><text x="210" y="96.8">48</text><text x="221" y="93.8">1755|1427</text><text x="218.5" y="106.8">2618|1325</text><text x="213" y="116.2">2633|837</text><text x="220" y="79.5">1931</text><text x="228" y="66.2">9409</text><text x="237" y="57.8">209|44</text><text x="248.5" y="46.2">49</text><text x="213" y="142.2">5827</text><text x="216" y="149.5">6405</text><text x="162" y="140.2">855</text>
<text x="279.5" y="67.2">1360</text><text x="279.5" y="72.8">176</text><text x="279.5" y="78.8">1182</text><text x="279.5" y="84.5">229</text><text x="279.5" y="90.2">2063</text><text x="279.5" y="96.2">979</text><text x="279.5" y="101.8">233</text><text x="264" y="84.5">3788|1212</text>
</g>
</g>
<g fill="#fff" font-size="4"><text x="246" y="68">MA</text><text x="246" y="74">RI</text><text x="246" y="80">CT</text><text x="246" y="86">NJ</text><text x="246" y="92">DE</text><text x="246" y="98">MD</text><text x="246" y="104">DC</text></g>
<rect x="31" y="133" width="69" height="35" fill="none" stroke="#ccc" stroke-width="0.5"/><line x1="74" y1="133" x2="74" y2="168" stroke="#ccc" stroke-width="0.5"/>
<polygon fill="#f5a03c" points="44,137 56,136 60,150 70,163 62,160 52,158 40,164 46,154 38,150 42,143"/>
<g fill="#fff"><ellipse cx="80" cy="147" rx="1" ry="0.8"/><ellipse cx="86" cy="150" rx="1.3" ry="0.9"/><ellipse cx="91" cy="153" rx="1.2" ry="0.9"/><ellipse cx="95" cy="160" rx="3.5" ry="3.5"/></g>
<rect x="49" y="142" width="9" height="5" fill="#1c4a9a" stroke="#fff" stroke-width="0.4"/><rect x="49" y="147.5" width="9" height="5" fill="#1c4a9a" stroke="#fff" stroke-width="0.4"/><rect x="78" y="151.5" width="9" height="5" fill="#1c4a9a" stroke="#fff" stroke-width="0.4"/>
<g fill="#fff" font-size="3.8" text-anchor="middle"><text x="53.5" y="145.8">8</text><text x="53.5" y="151.3">26</text><text x="82.5" y="155.3">59</text></g>
<rect x="147" y="148" width="61" height="22" fill="none" stroke="#ccc" stroke-width="0.5"/><line x1="169.7" y1="148" x2="169.7" y2="170" stroke="#ccc" stroke-width="0.5"/><line x1="187" y1="148" x2="187" y2="170" stroke="#ccc" stroke-width="0.5"/>
<rect x="150" y="153" width="16" height="5" rx="1.5" fill="#fff"/><rect x="173" y="155" width="4" height="2.5" fill="#f5a03c"/><rect x="179" y="153.5" width="5" height="3" fill="#f5a03c"/><rect x="194" y="154" width="3" height="2" fill="#fff"/>
<g fill="#1c4a9a" stroke="#fff" stroke-width="0.4"><rect x="151" y="161" width="13" height="5"/><rect x="172" y="161" width="12" height="5"/><rect x="191" y="161" width="12" height="5"/></g>
<g fill="#fff" font-size="3.8" text-anchor="middle"><text x="157.5" y="165">3651</text><text x="178" y="165">69|52</text><text x="197" y="165">6|4</text></g>
<rect x="231" y="115" width="20" height="8" fill="#1c4a9a" stroke="#fff" stroke-width="0.8"/><text x="241" y="121.3" fill="#fff" font-size="5.5" font-weight="bold" text-anchor="middle">HIV</text>
<rect x="263" y="115" width="18" height="8" fill="#1c4a9a" stroke="#fff" stroke-width="0.5"/><text x="272" y="121.3" fill="#fff" font-size="5.5" font-weight="bold" text-anchor="middle">AIDS</text>
<text x="228" y="131" fill="#fff" font-size="4.2">N=29,682**  N=45,907**</text>
<text x="228" y="142" fill="#fff" font-size="6.5">Confidential</text><text x="228" y="149" fill="#fff" font-size="6.5">HIV Reporting***</text>
<rect x="229" y="152" width="6" height="6" fill="#f5a03c"/><rect x="229" y="161" width="6" height="6" fill="#fcd49a"/>
<text x="238" y="158" fill="#fff" font-size="6">Required</text><text x="238" y="167" fill="#fff" font-size="6">Pediatric only</text>
<g fill="#fff" font-size="3"><text x="28" y="174">* For areas with confidential HIV infection surveillance. Includes 297 women who were residents of areas</text><text x="28" y="178">without HIV infection surveillance but who were reported by areas with HIV infection surveillance.</text><text x="28" y="182">**Totals include cases missing state of residence data.</text><text x="28" y="186">***HIV cases reported by patient name.</text></g>
<rect x="270" y="180" width="15" height="12" fill="#e8e8f2"/><text x="277.5" y="188" font-size="5.5" font-weight="bold" fill="#0b0b52" text-anchor="middle">CDC</text>
</svg>

<div class="lab" style="left:233px;top:1798px">Slide #9</div>
<div class="cap" style="left:233px;top:1816px">Women 15-44 Years Old Living with HIV Infection<br>and AIDS, 2000</div>
<div class="lnk" style="left:233px;top:1853px"><a href="#">Zoom/Download Slide #9</a></div>

<div class="hr" style="top:1895px"></div>

<div class="nav" style="top:1906px">
<a style="left:7px">Slide Sets</a><i style="left:88px"></i>
<a style="left:106px">Home</a><i style="left:161px"></i>
<a style="left:179px">Index</a><i style="left:233px"></i>
<a style="left:251px">Search</a><i style="left:314px"></i>
<a style="left:333px">Site Map</a><i style="left:407px"></i>
<a style="left:425px">Subscribe</a><i style="left:506px"></i>
<a style="left:524px">Contact Us</a>
</div>

<div class="hr" style="top:1928px"></div>

<div class="a" style="left:94px;top:1953px;font-size:13px;line-height:16px;font-style:italic;color:#000080">Last Updated: <span style="color:#ff0000">September 18, 2001</span></div>
<div class="a" style="left:94px;top:1970px;font-size:13px;line-height:16px;font-style:italic;color:#000080">Centers for Disease Control &amp; Prevention</div>
<div class="a" style="left:94px;top:1985px;font-size:13px;line-height:16px;font-style:italic;color:#000080">National Center for HIV, STD, and TB Prevention</div>
<div class="a" style="left:94px;top:2001px;font-size:13px;line-height:16px;font-style:italic"><a href="#">Divisions of HIV/AIDS Prevention</a></div>
<div class="a" style="left:94px;top:2017px;font-size:13px;line-height:16px;font-style:italic;color:#000080">Surveillance Branch</div>
<div class="a" style="left:94px;top:2034px;font-size:13px;line-height:16px;font-style:italic;color:#000080">Please send comments/suggestions/requests to: <a href="#">hivmail@cdc.gov</a></div>

</body></html>
